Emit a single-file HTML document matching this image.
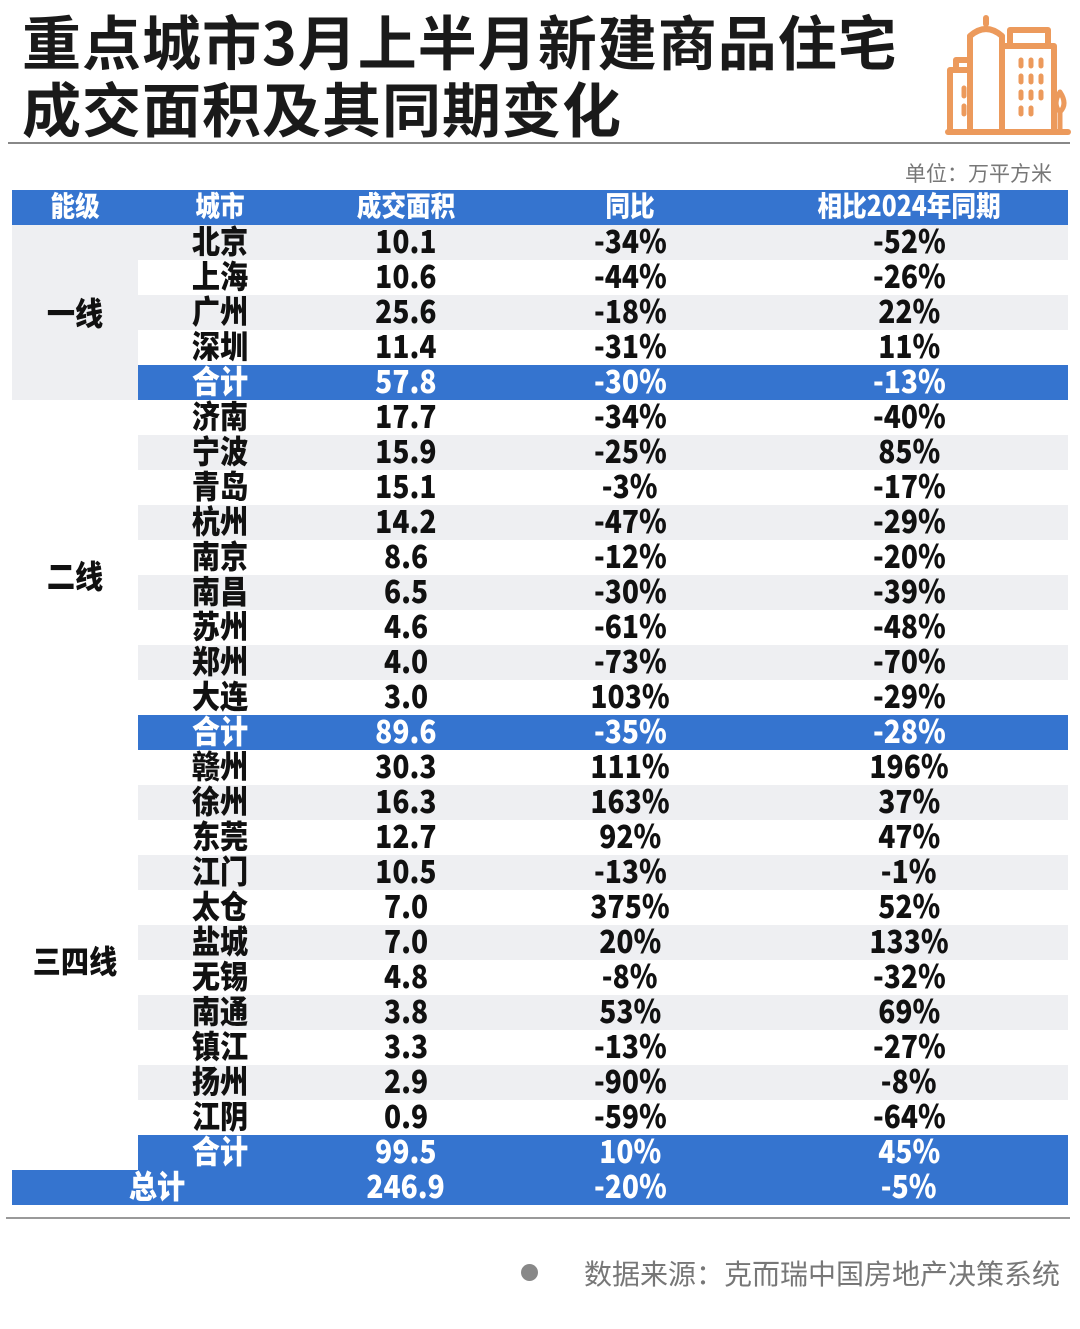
<!DOCTYPE html>
<html><head><meta charset="utf-8"><style>
html,body{margin:0;padding:0;background:#fff;width:1080px;height:1329px;overflow:hidden;position:relative;font-family:"Liberation Sans","Noto Sans CJK SC",sans-serif;}
.t{position:absolute;left:22px;font-size:59px;font-weight:700;color:#1a1a1a;letter-spacing:1px;font-family:"Noto Sans CJK SC",sans-serif;line-height:1;}
table{position:absolute;left:12px;top:190px;border-collapse:collapse;table-layout:fixed;width:1056px;}
td{height:35px;padding:0;text-align:center;font-family:"Noto Sans CJK SC",sans-serif;font-weight:900;font-size:32px;color:#111;line-height:31px;overflow:hidden;white-space:nowrap;vertical-align:top;}
td span{display:inline-block;transform:scaleX(0.88);}
tr.h td{background:#3574cf;color:#fff;font-size:28px;}
tr.s td.c{background:#3574cf;color:#fff;}
tr.g td.c{background:#eeeff2;}
tr.tot td{background:#3574cf;color:#fff;}
td.l1{background:#eeeff2;}
td[rowspan]{vertical-align:middle;line-height:35px;}
</style></head><body>
<div class="t" style="top:10px">重点城市3月上半月新建商品住宅</div>
<div class="t" style="top:77px">成交面积及其同期变化</div>
<svg style="position:absolute;left:940px;top:8px" width="135" height="130" viewBox="0 0 135 130" fill="none" stroke="#ec9a5c" stroke-width="6" stroke-linejoin="round" stroke-linecap="round">
<path d="M8 124 H128"/><path d="M10 124 V62 H30 V124"/><path d="M16 62 V52 H30"/><path d="M30 124 V28 Q46 14 62 28 V124"/><path d="M46 10 V16"/><path d="M62 124 V38 H114 V124"/><path d="M70 38 V22 H108 V38"/>
<path d="M24 80 V88 M24 98 V106" stroke-width="5"/>
<g stroke-width="5"><path d="M81 52v6M91 52v6M101 52v6M81 68v6M91 68v6M101 68v6M81 84v6M91 84v6M101 84v6M81 100v6M91 100v6"/></g>
<path d="M120 124 V104 M120 84 Q112 96 120 104 Q128 96 120 84Z" stroke-width="5"/>
</svg>
<div style="position:absolute;left:8px;top:142px;width:1062px;height:2px;background:#888"></div>
<div style="position:absolute;right:28px;top:158px;font-size:21px;color:#777;font-family:'Noto Sans CJK SC',sans-serif;">单位：万平方米</div>
<table>
<colgroup><col style="width:126px"><col style="width:164px"><col style="width:208px"><col style="width:240px"><col style="width:318px"></colgroup>
<tr class="h"><td><span>能级</span></td><td><span>城市</span></td><td><span>成交面积</span></td><td><span>同比</span></td><td><span>相比2024年同期</span></td></tr>
<tr class="g"><td rowspan="5" class="l1"><span>一线</span></td><td class="c"><span>北京</span></td><td class="c"><span>10.1</span></td><td class="c"><span>-34%</span></td><td class="c"><span>-52%</span></td></tr>
<tr><td class="c"><span>上海</span></td><td class="c"><span>10.6</span></td><td class="c"><span>-44%</span></td><td class="c"><span>-26%</span></td></tr>
<tr class="g"><td class="c"><span>广州</span></td><td class="c"><span>25.6</span></td><td class="c"><span>-18%</span></td><td class="c"><span>22%</span></td></tr>
<tr><td class="c"><span>深圳</span></td><td class="c"><span>11.4</span></td><td class="c"><span>-31%</span></td><td class="c"><span>11%</span></td></tr>
<tr class="s"><td class="c"><span>合计</span></td><td class="c"><span>57.8</span></td><td class="c"><span>-30%</span></td><td class="c"><span>-13%</span></td></tr>
<tr><td rowspan="10"><span>二线</span></td><td class="c"><span>济南</span></td><td class="c"><span>17.7</span></td><td class="c"><span>-34%</span></td><td class="c"><span>-40%</span></td></tr>
<tr class="g"><td class="c"><span>宁波</span></td><td class="c"><span>15.9</span></td><td class="c"><span>-25%</span></td><td class="c"><span>85%</span></td></tr>
<tr><td class="c"><span>青岛</span></td><td class="c"><span>15.1</span></td><td class="c"><span>-3%</span></td><td class="c"><span>-17%</span></td></tr>
<tr class="g"><td class="c"><span>杭州</span></td><td class="c"><span>14.2</span></td><td class="c"><span>-47%</span></td><td class="c"><span>-29%</span></td></tr>
<tr><td class="c"><span>南京</span></td><td class="c"><span>8.6</span></td><td class="c"><span>-12%</span></td><td class="c"><span>-20%</span></td></tr>
<tr class="g"><td class="c"><span>南昌</span></td><td class="c"><span>6.5</span></td><td class="c"><span>-30%</span></td><td class="c"><span>-39%</span></td></tr>
<tr><td class="c"><span>苏州</span></td><td class="c"><span>4.6</span></td><td class="c"><span>-61%</span></td><td class="c"><span>-48%</span></td></tr>
<tr class="g"><td class="c"><span>郑州</span></td><td class="c"><span>4.0</span></td><td class="c"><span>-73%</span></td><td class="c"><span>-70%</span></td></tr>
<tr><td class="c"><span>大连</span></td><td class="c"><span>3.0</span></td><td class="c"><span>103%</span></td><td class="c"><span>-29%</span></td></tr>
<tr class="s"><td class="c"><span>合计</span></td><td class="c"><span>89.6</span></td><td class="c"><span>-35%</span></td><td class="c"><span>-28%</span></td></tr>
<tr><td rowspan="12"><span>三四线</span></td><td class="c"><span>赣州</span></td><td class="c"><span>30.3</span></td><td class="c"><span>111%</span></td><td class="c"><span>196%</span></td></tr>
<tr class="g"><td class="c"><span>徐州</span></td><td class="c"><span>16.3</span></td><td class="c"><span>163%</span></td><td class="c"><span>37%</span></td></tr>
<tr><td class="c"><span>东莞</span></td><td class="c"><span>12.7</span></td><td class="c"><span>92%</span></td><td class="c"><span>47%</span></td></tr>
<tr class="g"><td class="c"><span>江门</span></td><td class="c"><span>10.5</span></td><td class="c"><span>-13%</span></td><td class="c"><span>-1%</span></td></tr>
<tr><td class="c"><span>太仓</span></td><td class="c"><span>7.0</span></td><td class="c"><span>375%</span></td><td class="c"><span>52%</span></td></tr>
<tr class="g"><td class="c"><span>盐城</span></td><td class="c"><span>7.0</span></td><td class="c"><span>20%</span></td><td class="c"><span>133%</span></td></tr>
<tr><td class="c"><span>无锡</span></td><td class="c"><span>4.8</span></td><td class="c"><span>-8%</span></td><td class="c"><span>-32%</span></td></tr>
<tr class="g"><td class="c"><span>南通</span></td><td class="c"><span>3.8</span></td><td class="c"><span>53%</span></td><td class="c"><span>69%</span></td></tr>
<tr><td class="c"><span>镇江</span></td><td class="c"><span>3.3</span></td><td class="c"><span>-13%</span></td><td class="c"><span>-27%</span></td></tr>
<tr class="g"><td class="c"><span>扬州</span></td><td class="c"><span>2.9</span></td><td class="c"><span>-90%</span></td><td class="c"><span>-8%</span></td></tr>
<tr><td class="c"><span>江阴</span></td><td class="c"><span>0.9</span></td><td class="c"><span>-59%</span></td><td class="c"><span>-64%</span></td></tr>
<tr class="s"><td class="c"><span>合计</span></td><td class="c"><span>99.5</span></td><td class="c"><span>10%</span></td><td class="c"><span>45%</span></td></tr>
<tr class="tot"><td colspan="2"><span>总计</span></td><td><span>246.9</span></td><td><span>-20%</span></td><td><span>-5%</span></td></tr>
</table>
<div style="position:absolute;left:6px;top:1217px;width:1064px;height:2px;background:#999"></div>
<div style="position:absolute;left:521px;top:1264px;width:17px;height:17px;border-radius:50%;background:#888"></div>
<div style="position:absolute;left:584px;top:1253px;font-size:28px;color:#777;font-family:'Noto Sans CJK SC',sans-serif;white-space:nowrap;">数据来源：克而瑞中国房地产决策系统</div>
</body></html>
